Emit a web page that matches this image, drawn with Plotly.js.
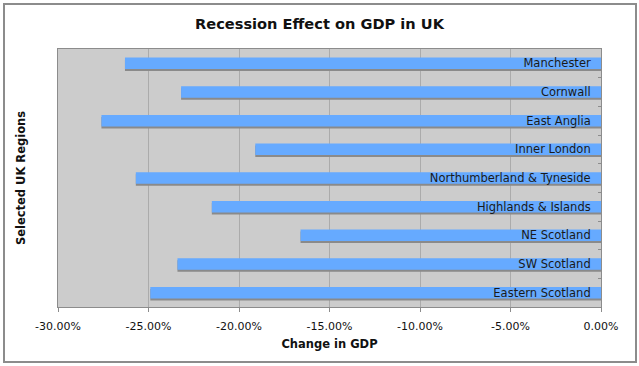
<!DOCTYPE html>
<html><head><meta charset="utf-8">
<script src="https://cdn.plot.ly/plotly-3.0.1.min.js"></script>
<style>
html,body{margin:0;padding:0;background:#fff;}
#wrap{position:relative;width:639px;height:366px;}
#chart{width:639px;height:366px;}
#frame{position:absolute;left:3px;top:3px;width:630px;height:356px;border:2px solid #8c8c8c;pointer-events:none;}
</style></head>
<body>
<div id="wrap"><div id="chart"></div><div id="frame"></div></div>
<script>
const regions = ["Manchester","Cornwall","East Anglia","Inner London","Northumberland & Tyneside","Highlands & Islands","NE Scotland","SW Scotland","Eastern Scotland"];
const gdpChange = [-0.263,-0.232,-0.276,-0.191,-0.257,-0.215,-0.166,-0.234,-0.249];
const xTicks = [-0.30,-0.25,-0.20,-0.15,-0.10,-0.05,0];
const xTickLabels = ["-30.00%","-25.00%","-20.00%","-15.00%","-10.00%","-5.00%","0.00%"];

const font = "DejaVu Sans, Verdana, sans-serif";
const shadow = {
  type:'bar', orientation:'h', y:regions, x:gdpChange,
  width:0.4, offset:-0.13, marker:{color:'#8a8a8a'}, hoverinfo:'skip', showlegend:false
};
const bars = {
  type:'bar', orientation:'h', y:regions, x:gdpChange,
  width:0.4, offset:-0.2, marker:{color:'#66aaff'},
  text: regions.map(r => r + '\u00a0\u00a0'), textposition:'inside', insidetextanchor:'start',
  constraintext:'none', textangle:0,
  textfont:{family:font, size:11.5, color:'#1a1a1a'}, showlegend:false
};
Plotly.newPlot('chart',[shadow,bars],{
  width:639, height:366,
  margin:{l:58,r:38,t:49,b:59},
  paper_bgcolor:'#ffffff', plot_bgcolor:'#cccccc',
  barmode:'overlay',
  font:{family:font, color:'#111'},
  title:{text:'<b>Recession Effect on GDP in UK</b>', x:0.5, xanchor:'center', y:0.935, yanchor:'middle', font:{family:font, size:14.6, color:'#111'}},
  xaxis:{range:[-0.30,0], tickvals:xTicks, ticktext:xTickLabels, showgrid:true, gridcolor:'#ababab', gridwidth:1,
    zeroline:false, showline:true, linecolor:'#8c8c8c', linewidth:1, mirror:true,
    ticks:'outside', ticklen:4, tickcolor:'#8c8c8c', ticklabelstandoff:5,
    tickfont:{family:font, size:11, color:'#111'},
    title:{text:'<b>Change in GDP</b>', font:{family:font, size:11.5, color:'#111'}, standoff:7}},
  yaxis:{type:'category', autorange:'reversed', side:'right', showticklabels:false, tickson:'boundaries',
    ticks:'inside', ticklen:3, tickcolor:'#8c8c8c', showgrid:false, zeroline:false,
    showline:true, linecolor:'#8c8c8c', linewidth:1, mirror:true},
  annotations:[{text:'<b>Selected UK Regions</b>', xref:'paper', yref:'paper', x:-0.068, y:0.5, textangle:-90,
    showarrow:false, xanchor:'center', yanchor:'middle', font:{family:font, size:11.5, color:'#111'}}]
},{displayModeBar:false, staticPlot:true});
</script>
</body></html>
